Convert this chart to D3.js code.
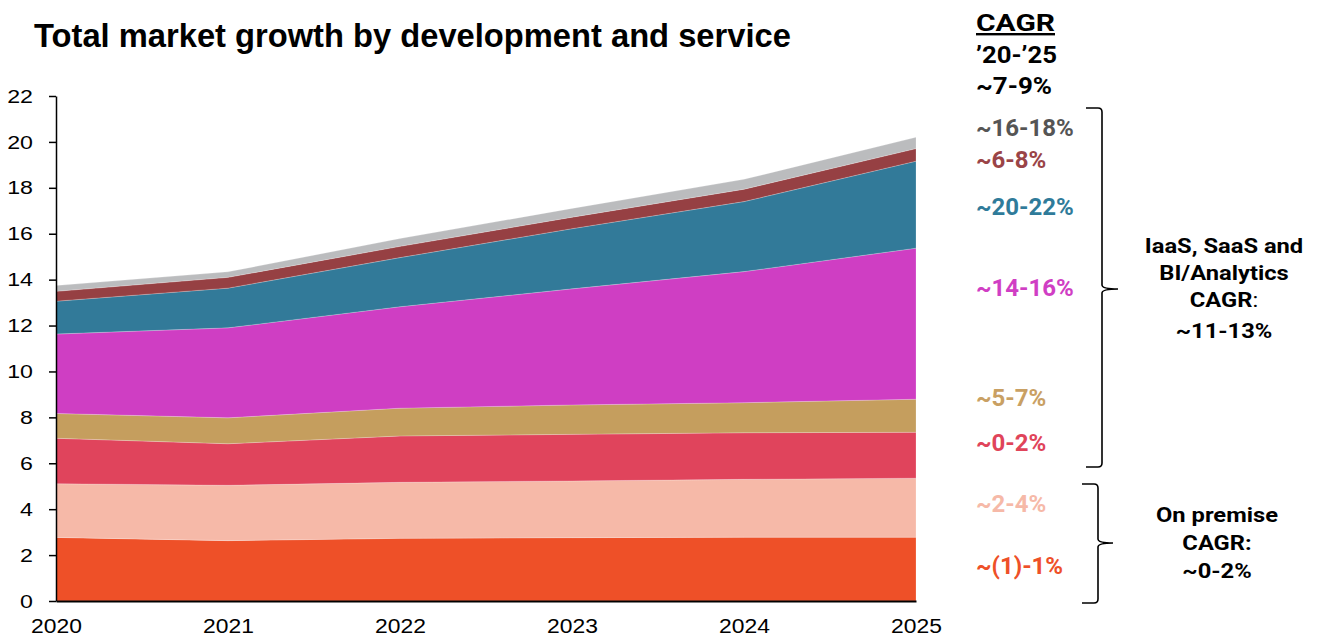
<!DOCTYPE html>
<html>
<head>
<meta charset="utf-8">
<script src="https://cdn.jsdelivr.net/npm/d3@7"></script>
<style>
  body { margin: 0; background: #fff; }
  svg { display: block; }
</style>
</head>
<body>
<svg id="chart" width="1320" height="637"></svg>
<script>
// Years on the x axis
const years = [2020, 2021, 2022, 2023, 2024, 2025];

// Segment values (bottom to top of the stack)
const onPremiseCore   = [2.77, 2.63, 2.73, 2.76, 2.78, 2.78];
const onPremiseOther  = [2.34, 2.41, 2.44, 2.47, 2.52, 2.57];
const serviceA        = [1.98, 1.81, 2.02, 2.03, 2.03, 2.00];
const serviceB        = [1.08, 1.13, 1.21, 1.28, 1.31, 1.44];
const saas            = [3.46, 3.92, 4.42, 5.06, 5.71, 6.58];
const iaas            = [1.43, 1.73, 2.14, 2.62, 3.05, 3.79];
const biTools         = [0.43, 0.47, 0.49, 0.50, 0.54, 0.55];
const analytics       = [0.25, 0.24, 0.34, 0.38, 0.43, 0.49];

const seriesKeys   = ["onPremiseCore", "onPremiseOther", "serviceA", "serviceB", "saas", "iaas", "biTools", "analytics"];
const seriesValues = [onPremiseCore, onPremiseOther, serviceA, serviceB, saas, iaas, biTools, analytics];
const seriesColors = ["#EE5028", "#F6B9A8", "#E0445C", "#C59E5E", "#CF3EC3", "#327A99", "#964043", "#BBBCBE"];

// CAGR labels per segment (top to bottom as listed on the right)
const cagrLabels = ["~16-18%", "~6-8%", "~20-22%", "~14-16%", "~5-7%", "~0-2%", "~2-4%", "~(1)-1%"];
const cagrColors = ["#555555", "#9A4447", "#2F7B9A", "#D03EC4", "#C9A063", "#E0445A", "#F6B9A8", "#EE5028"];

const yTicks = [0, 2, 4, 6, 8, 10, 12, 14, 16, 18, 20, 22];

// Build the row table expected by d3.stack
const rows = years.map((yr, i) => {
  const r = { year: yr };
  seriesKeys.forEach((k, j) => { r[k] = seriesValues[j][i]; });
  return r;
});

const svg = d3.select("#chart");

const x = d3.scaleLinear().domain([2020, 2025]).range([56, 916]);
const y = d3.scaleLinear().domain([0, 22]).range([601, 96]);

const stacked = d3.stack().keys(seriesKeys)(rows);

const area = d3.area()
  .x(d => x(d.data.year))
  .y0(d => y(d[0]))
  .y1(d => y(d[1]));

svg.append("g")
  .selectAll("path")
  .data(stacked)
  .join("path")
  .attr("d", area)
  .attr("fill", (d, i) => seriesColors[i])
  .attr("stroke", "rgba(255,255,255,0.35)")
  .attr("stroke-width", 0.6);

// Title
svg.append("text")
  .attr("x", 34)
  .attr("y", 47)
  .attr("font-family", "Liberation Sans, Arial, sans-serif")
  .attr("font-weight", "bold")
  .attr("font-size", 32.7)
  .attr("fill", "#000")
  .text("Total market growth by development and service");

const sansFont = "Liberation Sans, Arial, sans-serif";

// Y axis (labels drawn slightly wide)
const yLabelScale = 1.22;
const yAxis = d3.axisLeft(y)
  .tickValues(yTicks)
  .tickSize(7)
  .tickSizeOuter(0)
  .tickPadding(16)
  .tickFormat(d3.format("d"));

const gy = svg.append("g")
  .attr("transform", "translate(56,0)")
  .call(yAxis);
gy.select(".domain").attr("stroke", "#000").attr("stroke-width", 1.5);
gy.selectAll(".tick line").attr("stroke", "#000").attr("stroke-width", 1.5);
gy.selectAll(".tick text")
  .attr("font-family", sansFont)
  .attr("font-size", 19)
  .attr("fill", "#000")
  .attr("x", -23 / yLabelScale)
  .attr("transform", `scale(${yLabelScale},1)`);

// X axis
const xAxis = d3.axisBottom(x)
  .tickValues(years)
  .tickSize(0)
  .tickSizeOuter(0)
  .tickPadding(17)
  .tickFormat(d3.format("d"));

const gx = svg.append("g")
  .attr("transform", "translate(0,601)")
  .call(xAxis);
gx.select(".domain").attr("stroke", "#000").attr("stroke-width", 2);
gx.selectAll(".tick text")
  .attr("font-family", sansFont)
  .attr("font-size", 21)
  .attr("fill", "#000")
  .attr("transform", "scale(1.09,1)");

// Right-hand CAGR column
const rf = "Roboto, sans-serif";
const colX = 976;
const head = svg.append("g")
  .attr("font-family", rf)
  .attr("font-weight", "bold")
  .attr("font-size", 24)
  .attr("fill", "#000");
head.append("text").attr("x", colX).attr("y", 31)
  .attr("textLength", 79).attr("lengthAdjust", "spacingAndGlyphs")
  .attr("text-decoration", "underline").text("CAGR");
head.append("text").attr("x", colX).attr("y", 63)
  .attr("textLength", 81).attr("lengthAdjust", "spacingAndGlyphs")
  .text("\u201920-\u201925");
head.append("text").attr("x", colX).attr("y", 94)
  .attr("textLength", 76).attr("lengthAdjust", "spacingAndGlyphs")
  .text("~7-9%");

const labelBaselines = [136, 168, 215, 296, 406, 451, 512, 574];
svg.append("g")
  .attr("font-family", rf)
  .attr("font-weight", "bold")
  .attr("font-size", 24)
  .selectAll("text")
  .data(cagrLabels)
  .join("text")
  .attr("x", colX)
  .attr("y", (d, i) => labelBaselines[i])
  .attr("fill", (d, i) => cagrColors[i])
  .text(d => d);

// Curly braces grouping the segments
function bracePath(xv, top, bottom, tipY, tipX, r) {
  const xl = xv - 16;
  return `M${xl},${top} L${xv - r},${top} Q${xv},${top} ${xv},${top + r}` +
         ` L${xv},${tipY - r} Q${xv},${tipY} ${tipX},${tipY}` +
         ` M${tipX},${tipY} Q${xv},${tipY} ${xv},${tipY + r}` +
         ` L${xv},${bottom - r} Q${xv},${bottom} ${xv - r},${bottom} L${xl},${bottom}`;
}
svg.append("path")
  .attr("d", bracePath(1102, 108, 467, 289, 1118, 4))
  .attr("fill", "none").attr("stroke", "#000").attr("stroke-width", 1.6);
svg.append("path")
  .attr("d", bracePath(1098, 484, 603, 543, 1113, 4))
  .attr("fill", "none").attr("stroke", "#000").attr("stroke-width", 1.6);

// Group summaries
const groupScale = 1.13;
const groupText = svg.append("g")
  .attr("font-family", rf)
  .attr("font-weight", "bold")
  .attr("font-size", 21)
  .attr("fill", "#000")
  .attr("text-anchor", "middle");
function groupLine(t, cx, yy) {
  const el = groupText.append("text")
    .attr("transform", `translate(${cx},${yy}) scale(${groupScale},1)`);
  if (t === "CAGR") {
    el.append("tspan").text("CAGR");
    el.append("tspan").attr("font-weight", "normal").text(":");
  } else {
    el.text(t);
  }
}
const cloudLines = [["IaaS, SaaS and", 253], ["BI/Analytics", 280], ["CAGR", 307], ["~11-13%", 338]];
cloudLines.forEach(([t, yy]) => groupLine(t, 1224, yy));
const premLines = [["On premise", 522], ["CAGR:", 550], ["~0-2%", 578]];
premLines.forEach(([t, yy]) => groupLine(t, 1217, yy));
</script>
</body>
</html>
